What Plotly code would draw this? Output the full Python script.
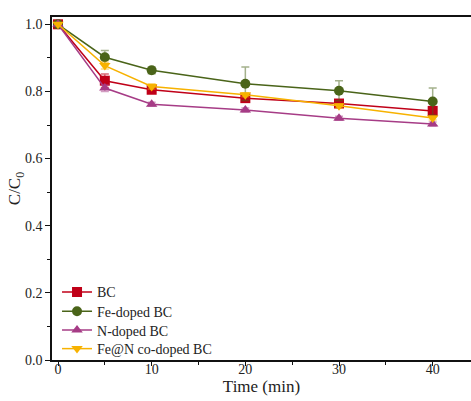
import plotly.graph_objects as go

time = [0, 5, 10, 20, 30, 40]
names = ["BC", "Fe-doped BC", "N-doped BC", "Fe@N co-doped BC"]
bc = [1.0, 0.832, 0.805, 0.780, 0.764, 0.742]
bc_err = [0.0, 0.02, 0.008, 0.008, 0.008, 0.012]
fe = [1.0, 0.902, 0.863, 0.823, 0.802, 0.770]
fe_err = [0.0, 0.02, 0.01, 0.05, 0.03, 0.04]
n = [1.0, 0.810, 0.762, 0.745, 0.720, 0.703]
n_err = [0.0, 0.01, 0.006, 0.006, 0.006, 0.006]
fen = [1.0, 0.877, 0.815, 0.790, 0.757, 0.721]
fen_err = [0.0, 0.01, 0.008, 0.006, 0.006, 0.006]

series = [
    (bc, bc_err, "#C00018", "rgba(192,0,24,0.6)", "square"),
    (fe, fe_err, "#4A6419", "rgba(74,100,25,0.5)", "circle"),
    (n, n_err, "#A63C86", "rgba(166,60,134,0.5)", "triangle-up"),
    (fen, fen_err, "#F7B200", "rgba(247,178,0,0.5)", "triangle-down"),
]

font = "Liberation Serif"
legend_ids = ["legend", "legend2", "legend3", "legend4"]
legend_y = [0.197, 0.141, 0.086, 0.032]

fig = go.Figure()
for i, (name, (vals, errs, col, ecol, sym)) in enumerate(zip(names, series)):
    fig.add_trace(go.Scatter(
        x=time, y=vals, name=name, mode="lines+markers",
        line=dict(color=col, width=1.5),
        marker=dict(symbol=sym, size=10, color=col),
        error_y=dict(type="data", array=errs, visible=True, color=ecol, thickness=1.5, width=4),
        legend=legend_ids[i],
    ))

leg_common = dict(x=0.012, xanchor="left", yanchor="middle", bgcolor="rgba(0,0,0,0)",
                  font=dict(family=font, size=14, color="#222"), itemwidth=30)

fig.update_layout(
    width=471, height=401,
    margin=dict(l=52, r=0, t=17, b=41),
    paper_bgcolor="white", plot_bgcolor="white",
    font=dict(family=font, size=13, color="#222"),
    showlegend=True,
    legend=dict(y=legend_y[0], **leg_common),
    legend2=dict(y=legend_y[1], **leg_common),
    legend3=dict(y=legend_y[2], **leg_common),
    legend4=dict(y=legend_y[3], **leg_common),
    xaxis=dict(range=[-0.64, 44.09], tickvals=[0, 10, 20, 30, 40],
               ticks="outside", ticklen=4, tickwidth=1.2, tickcolor="#111",
               ticklabelstandoff=-9,
               showline=True, linecolor="#111", linewidth=1.5, mirror=True,
               showgrid=False, zeroline=False,
               minor=dict(tickvals=[5, 15, 25, 35], ticks="outside", ticklen=3, tickcolor="#111"),
               title=dict(text="Time (min)", font=dict(family=font, size=17), standoff=0),
               tickfont=dict(family=font, size=14)),
    yaxis=dict(range=[0, 1.0217], tickvals=[0, 0.2, 0.4, 0.6, 0.8, 1.0],
               tickformat=".1f",
               ticks="outside", ticklen=5, tickwidth=1.2, tickcolor="#111",
               showline=True, linecolor="#111", linewidth=1.5,
               showgrid=False, zeroline=False,
               minor=dict(tickvals=[0.1, 0.3, 0.5, 0.7, 0.9], ticks="outside", ticklen=3, tickcolor="#111"),
               title=dict(text="C/C<sub>0</sub>", font=dict(family=font, size=17), standoff=0),
               tickfont=dict(family=font, size=14)),
)

fig.write_html("out.html")
